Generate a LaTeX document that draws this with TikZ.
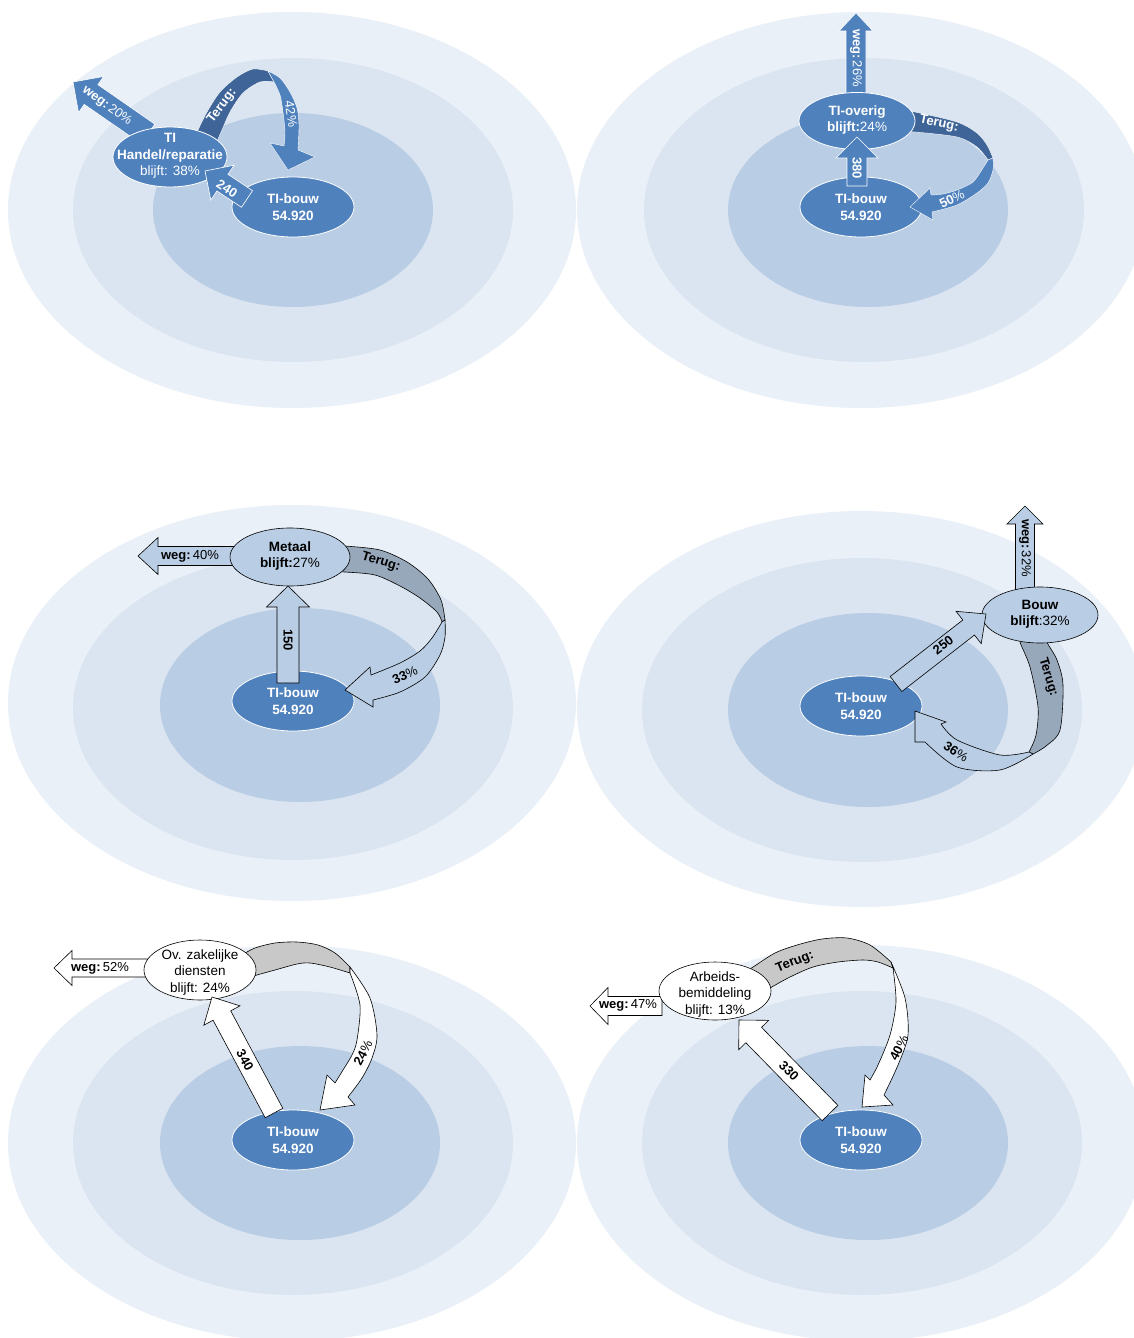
\documentclass[tikz,border=0pt]{standalone}
\usepackage{fontspec}
\setmainfont{Liberation Sans}
\usetikzlibrary{shapes.geometric,calc}
\definecolor{ringA}{HTML}{EAF0F7}
\definecolor{ringB}{HTML}{DBE5F1}
\definecolor{ringC}{HTML}{B9CDE4}
\definecolor{nblue}{HTML}{4F81BD}
\definecolor{dblue}{HTML}{3F6598}
\definecolor{lblue}{HTML}{B9CDE4}
\definecolor{gblue}{HTML}{97A8BB}
\definecolor{lgray}{HTML}{C8C8C8}
% block arrow: style, from, to, shaft half width, head half width, head length
\newcommand\blockarrow[6]{%
  \coordinate (bah) at ($(#3)!#6pt!(#2)$);
  \path[#1] ($(#2)!#4pt!90:(#3)$) -- ($(bah)!#4pt!90:(#3)$) -- ($(bah)!#5pt!90:(#3)$) -- (#3)
     -- ($(bah)!#5pt!-90:(#3)$) -- ($(bah)!#4pt!-90:(#3)$) -- ($(#2)!#4pt!-90:(#3)$) -- cycle;}
\begin{document}
\begin{tikzpicture}[x=1pt,y=-1pt,
  ellbase/.style={ellipse, inner sep=0pt, outer sep=0pt},
  tbnode/.style={ellbase, fill=nblue, draw=white, line width=0.8pt, minimum width=122pt, minimum height=60pt},
  srcA/.style={ellbase, fill=nblue, draw=white, line width=0.8pt},
  srcB/.style={ellbase, fill=lblue, draw=black, line width=0.6pt},
  srcC/.style={ellbase, fill=white, draw=black, line width=0.6pt},
  txt/.style={inner sep=0pt, outer sep=0pt, align=center, font=\fontsize{13.5}{16.5}\selectfont},
  wtxt/.style={txt, text=white},
  btxt/.style={txt, text=black},
  tbtxt/.style={txt, text=white, font=\fontsize{13.5}{16.5}\selectfont\bfseries},
  lbl/.style={inner sep=0pt, outer sep=0pt, font=\fontsize{13}{15}\selectfont},
  wl/.style={lbl, text=white},
  bl/.style={lbl, text=black},
  barrowA/.style={fill=nblue, draw=white, line width=0.6pt, line join=miter},
  barrowB/.style={fill=lblue, draw=black, line width=0.6pt, line join=miter},
  barrowC/.style={fill=white, draw=black, line width=0.6pt, line join=miter},
  ribA/.style={draw=white, line width=0.4pt, line join=miter},
  ribB/.style={draw=black, line width=0.6pt, line join=miter}]
\useasboundingbox (0,0) rectangle (1133,1338);
\fill[white] (0,0) rectangle (1133,1338);
% ---------- background rings ----------
\foreach \cx/\cy/\mx/\my/\ix/\iy in {292/210/293/210/293/210, 861/210/864/210/868/210,
   292/703/293/708/300/705, 861/709/862/710/868/710, 292/1143/293/1143/300/1143, 861/1143/862/1143/868/1143}{
  \fill[ringA] (\cx,\cy) ellipse [x radius=284, y radius=198];
  \fill[ringB] (\mx,\my) ellipse [x radius=220, y radius=152];
  \fill[ringC] (\ix,\iy) ellipse [x radius=140, y radius=97];
}
% ================= Panel 1 =================
\node[tbnode] (tb1) at (293,207) {};
\node[tbtxt] (tb1t) at (tb1) {TI-bouw\\54.920};
\coordinate (w1a) at (148,134); \coordinate (w1b) at (73,82);
\blockarrow{barrowA}{w1a}{w1b}{12}{22}{22}
\path[ribA, fill=dblue] plot[smooth] coordinates {(192,142) (197,132) (207,112) (220,92) (237,77) (253,69) (268,71)}
  -- plot[smooth] coordinates {(274,82) (260,82) (243,93) (230,112) (222,130) (215,146)} -- cycle;
\path[ribA, fill=nblue] plot[smooth] coordinates {(268,71) (280,78) (290,92) (297,108) (299,125) (298,150)}
  -- (315,157) -- (288,170) -- (270,143)
  -- plot[smooth] coordinates {(284,146) (285,132) (283,112) (280,95) (274,82)} -- cycle;
\node[srcA, minimum width=114pt, minimum height=60pt] (hr) at (170,157) {};
\node[wtxt] (hrt) at (170,156) {\textbf{TI}\\\textbf{Handel/reparatie}\\blijft: 38\%};
\coordinate (a1a) at (247,199); \coordinate (a1b) at (205,171);
\blockarrow{barrowA}{a1a}{a1b}{10}{21}{21}
\node[wl, rotate=-36] (l1w) at (107,106) {\textbf{weg:}\,20\%};
\node[wl, rotate=53] (l1r) at (222,106) {\textbf{Terug:}};
\node[wl, rotate=-81] (l1p) at (291,114) {42\%};
\node[wl, rotate=-33] (l1n) at (227,189) {\textbf{240}};
% ================= Panel 2 =================
\node[tbnode] (tb2) at (861,207) {};
\node[tbtxt] (tb2t) at (tb2) {TI-bouw\\54.920};
\coordinate (w2a) at (856,95); \coordinate (w2b) at (856,13);
\blockarrow{barrowA}{w2a}{w2b}{10}{17}{18}
\path[ribA, fill=dblue] plot[smooth] coordinates {(905,111) (915,112) (957,122) (977,133) (987,145) (993,158)}
  -- plot[smooth] coordinates {(988,160) (977,147) (957,137) (915,132) (905,132)} -- cycle;
\path[ribA, fill=nblue] plot[smooth] coordinates {(993,158) (993,170) (988,183) (977,193) (957,205) (932,212)}
  -- (933,220) -- (910,207) -- (930,188)
  -- plot[smooth] coordinates {(931,195) (943,194) (957,190) (973,182) (983,168) (988,160)} -- cycle;
\node[srcA, minimum width=116pt, minimum height=57pt] (to) at (857,121) {};
\node[wtxt] (tot) at (857,120) {\textbf{TI-overig}\\\textbf{blijft:}24\%};
\coordinate (b2a) at (857,186); \coordinate (b2b) at (857,137);
\blockarrow{barrowA}{b2a}{b2b}{10}{21}{21}
\node[wl, rotate=-90] (l2w) at (856,58) {\textbf{weg:}\,26\%};
\node[wl, rotate=-90] (l2n) at (857,168) {\textbf{380}};
\node[wl, rotate=-12] (l2r) at (939,124) {\textbf{Terug:}};
\node[wl, rotate=25] (l2p) at (952,199) {\textbf{50}\%};
% ================= Panel 3 =================
\node[tbnode] (tb3) at (293,701) {};
\node[tbtxt] (tb3t) at (tb3) {TI-bouw\\54.920};
\coordinate (w3a) at (236,556); \coordinate (w3b) at (138,556);
\blockarrow{barrowB}{w3a}{w3b}{9.5}{18.5}{20}
\path[ribB, fill=gblue] plot[smooth] coordinates {(335,546) (345,546) (380,550) (407,562) (428,579) (441,600) (445,620)}
  -- plot[smooth] coordinates {(442,622) (437,612) (420,598) (400,586) (375,575) (345,572) (335,572)} -- cycle;
\path[ribB, fill=lblue] plot[smooth] coordinates {(445,620) (445,637) (440,655) (425,677) (400,692) (373,700)}
  -- (373,707) -- (345,690) -- (370,667)
  -- plot[smooth] coordinates {(371,675) (400,663) (420,651) (432,638) (442,622)} -- cycle;
\node[srcB, minimum width=120pt, minimum height=58pt] (me) at (290,557) {};
\node[btxt] (met) at (290,556) {\textbf{Metaal}\\\textbf{blijft:}27\%};
\coordinate (b3a) at (288,683); \coordinate (b3b) at (288,586);
\blockarrow{barrowB}{b3a}{b3b}{11}{21.5}{21}
\node[bl] (l3w) at (190,556) {\textbf{weg:}\,40\%};
\node[bl, rotate=-90] (l3n) at (288,640) {\textbf{150}};
\node[bl, rotate=-17] (l3r) at (381,562) {\textbf{Terug:}};
\node[bl, rotate=24] (l3p) at (405,675) {\textbf{33}\%};
% ================= Panel 4 =================
\node[tbnode] (tb4) at (861,706) {};
\node[tbtxt] (tb4t) at (tb4) {TI-bouw\\54.920};
\coordinate (w4a) at (1025,590); \coordinate (w4b) at (1025,506);
\blockarrow{barrowB}{w4a}{w4b}{9.5}{18}{18}
\path[ribB, fill=gblue] plot[smooth] coordinates {(1020,632) (1020,642) (1030,667) (1038,707) (1036,735) (1029,752)}
  -- plot[smooth] coordinates {(1033,754) (1046,746) (1060,730) (1063,685) (1057,660) (1047,642) (1047,632)} -- cycle;
\path[ribB, fill=lblue] plot[smooth] coordinates {(1033,754) (1000,770) (957,767) (925,742)}
  -- (915,742) -- (915,711) -- (946,722)
  -- plot[smooth] coordinates {(941,724) (957,740) (1000,755) (1029,752)} -- cycle;
\node[srcB, minimum width=116pt, minimum height=56pt] (bo) at (1040,615) {};
\node[btxt] (bot) at (1040,614) {\textbf{Bouw}\\\textbf{blijft}:32\%};
\coordinate (b4a) at (896,684); \coordinate (b4b) at (986,614);
\blockarrow{barrowB}{b4a}{b4b}{9.5}{20.5}{22}
\node[bl, rotate=-90] (l4w) at (1025,548) {\textbf{weg:}\,32\%};
\node[bl, rotate=37] (l4n) at (943,645) {\textbf{250}};
\node[bl, rotate=-73] (l4r) at (1048,677) {\textbf{Terug:}};
\node[bl, rotate=-32] (l4p) at (956,752) {\textbf{36}\%};
% ================= Panel 5 =================
\node[tbnode] (tb5) at (293,1140) {};
\node[tbtxt] (tb5t) at (tb5) {TI-bouw\\54.920};
\coordinate (w5a) at (150,968); \coordinate (w5b) at (54,968);
\blockarrow{barrowC}{w5a}{w5b}{9}{17.5}{18}
\path[ribB, fill=lgray] plot[smooth] coordinates {(240,956) (255,948) (275,943) (297,942) (318,945) (335,953) (350,967)}
  -- plot[smooth] coordinates {(350,973) (330,967) (310,963) (297,964) (275,970) (257,975) (242,980)} -- cycle;
\path[ribB, fill=white] plot[smooth] coordinates {(350,967) (370,998) (377,1035) (372,1058) (362,1078) (348,1097)}
  -- (355,1105) -- (320,1110) -- (327,1075)
  -- plot[smooth] coordinates {(335,1083) (343,1070) (352,1055) (357,1040) (360,1005) (350,973)} -- cycle;
\node[srcC, minimum width=112pt, minimum height=60pt] (oz) at (200,970) {};
\node[btxt] (ozt) at (200,972) {Ov. zakelijke\\diensten\\blijft: 24\%};
\coordinate (b5a) at (274,1113); \coordinate (b5b) at (212,997);
\blockarrow{barrowC}{b5a}{b5b}{10}{20.5}{21}
\node[bl] (l5w) at (100,968) {\textbf{weg:}\,52\%};
\node[bl, rotate=-61] (l5n) at (245,1060) {\textbf{340}};
\node[bl, rotate=62] (l5p) at (363,1053) {\textbf{24}\%};
% ================= Panel 6 =================
\node[tbnode] (tb6) at (861,1140) {};
\node[tbtxt] (tb6t) at (tb6) {TI-bouw\\54.920};
\coordinate (w6a) at (662,1006); \coordinate (w6b) at (590,1006);
\blockarrow{barrowC}{w6a}{w6b}{9.5}{18.5}{18}
\path[ribB, fill=lgray] plot[smooth] coordinates {(740,975) (753,967) (775,953) (797,945) (822,939) (847,938) (870,945) (891,962)}
  -- plot[smooth] coordinates {(893,968) (878,962) (863,960) (838,962) (813,967) (790,977) (770,988) (758,995)} -- cycle;
\path[ribB, fill=white] plot[smooth] coordinates {(891,962) (905,998) (908,1035) (898,1065) (884,1095)}
  -- (893,1105) -- (862,1107) -- (865,1075)
  -- plot[smooth] coordinates {(870,1080) (878,1065) (890,1035) (896,1002) (893,968)} -- cycle;
\node[srcC, minimum width=112pt, minimum height=58pt] (ab) at (715,991) {};
\node[btxt] (abt) at (715,994) {Arbeids-\\bemiddeling\\blijft: 13\%};
\coordinate (b6a) at (830,1113); \coordinate (b6b) at (739,1020);
\blockarrow{barrowC}{b6a}{b6b}{11}{21}{21}
\node[bl] (l6w) at (628,1005) {\textbf{weg:}\,47\%};
\node[bl, rotate=-45] (l6n) at (789,1071) {\textbf{330}};
\node[bl, rotate=22] (l6r) at (795,962) {\textbf{Terug:}};
\node[bl, rotate=62] (l6p) at (899,1048) {\textbf{40}\%};
\end{tikzpicture}
\end{document}
